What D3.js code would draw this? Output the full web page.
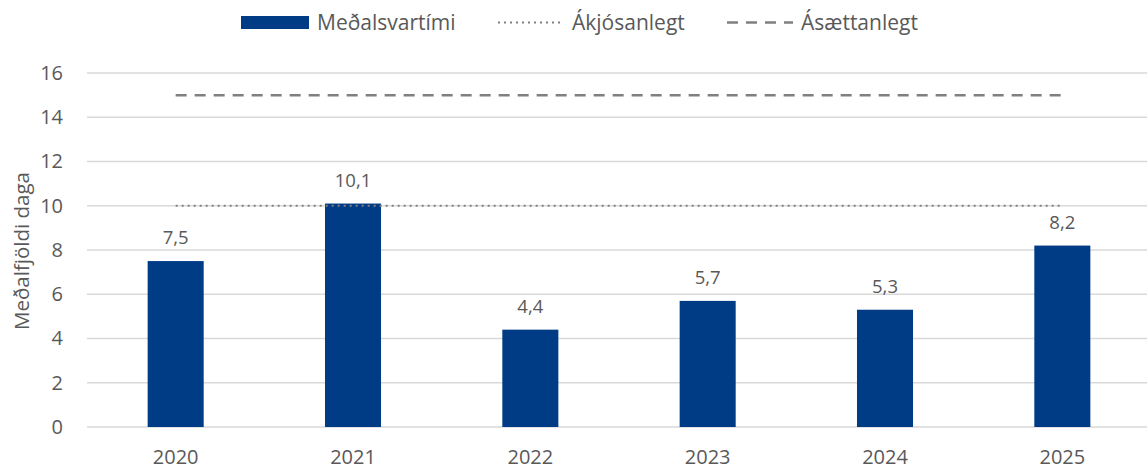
<!DOCTYPE html>
<html>
<head>
<meta charset="utf-8">
<script src="https://cdn.jsdelivr.net/npm/d3@7"></script>
<style>
    body { margin: 0; background: #fff; }
    svg text { font-family: "Open Sans", sans-serif; fill: #595959; }
</style>
</head>
<body>
<div id="chart"></div>
<script>
// DATA ///////////////////////////////////////////////////////////////////////
const years = ["2020", "2021", "2022", "2023", "2024", "2025"];
const avgTime = [7.5, 10.1, 4.4, 5.7, 5.3, 8.2];   // Meðalsvartími
const idealLevel = 10;                             // Ákjósanlegt
const okLevel = 15;                                // Ásættanlegt
const yTicks = [0, 2, 4, 6, 8, 10, 12, 14, 16];
const legendLabels = ["Meðalsvartími", "Ákjósanlegt", "Ásættanlegt"];

(function() {
    const W = 1147, H = 470;
    const margin = {top: 73, right: -4, bottom: 43, left: 87};
    const barColor = "#003c85";
    const lineColor = "#808080";
    const fmt = v => String(v).replace(".", ",");

    const svg = d3.select("#chart").append("svg")
        .attr("width", W).attr("height", H);

    const x = d3.scaleBand()
        .domain(years)
        .range([margin.left, W - margin.right])
        .paddingInner(0.684)
        .paddingOuter(0.342);

    const y = d3.scaleLinear()
        .domain([0, 16])
        .range([H - margin.bottom, margin.top]);

    // gridlines
    svg.append("g")
        .selectAll("line")
        .data(yTicks)
        .join("line")
        .attr("x1", margin.left).attr("x2", W - margin.right)
        .attr("y1", d => y(d)).attr("y2", d => y(d))
        .attr("stroke", "#d9d9d9").attr("stroke-width", 1.5);

    // y axis labels
    const yAxis = svg.append("g")
        .attr("transform", `translate(${margin.left - 24},0)`)
        .call(d3.axisLeft(y).tickValues(yTicks).tickSize(0).tickPadding(0));
    yAxis.select(".domain").remove();
    yAxis.selectAll("text").attr("font-size", 20).attr("fill", "#595959");

    // x axis labels
    const xAxis = svg.append("g")
        .attr("transform", `translate(0,${y(0)})`)
        .call(d3.axisBottom(x).tickSize(0).tickPadding(23));
    xAxis.select(".domain").remove();
    xAxis.selectAll("text").attr("font-size", 20).attr("fill", "#595959");

    // y axis title
    svg.append("text")
        .attr("transform", "translate(29,251) rotate(-90)")
        .attr("text-anchor", "middle")
        .attr("font-size", 20.5)
        .text("Meðalfjöldi daga");

    // bars
    svg.append("g")
        .selectAll("rect")
        .data(avgTime)
        .join("rect")
        .attr("x", (d, i) => x(years[i]))
        .attr("width", x.bandwidth())
        .attr("y", d => y(d))
        .attr("height", d => y(0) - y(d))
        .attr("fill", barColor);

    // reference lines
    const x0 = x(years[0]) + x.bandwidth() / 2;
    const x1 = x(years[years.length - 1]) + x.bandwidth() / 2;
    svg.append("line")
        .attr("x1", x0).attr("x2", x1)
        .attr("y1", y(idealLevel)).attr("y2", y(idealLevel))
        .attr("stroke", lineColor).attr("stroke-width", 2)
        .attr("stroke-dasharray", "2,4");
    svg.append("line")
        .attr("x1", x0).attr("x2", x1)
        .attr("y1", y(okLevel)).attr("y2", y(okLevel))
        .attr("stroke", lineColor).attr("stroke-width", 2.5)
        .attr("stroke-dasharray", "11,8");

    // value labels
    svg.append("g")
        .selectAll("text")
        .data(avgTime)
        .join("text")
        .attr("x", (d, i) => x(years[i]) + x.bandwidth() / 2)
        .attr("y", d => y(d) - 17)
        .attr("text-anchor", "middle")
        .attr("font-size", 18.5)
        .text(d => fmt(d));

    // legend
    const lg = svg.append("g");
    lg.append("rect")
        .attr("x", 241).attr("y", 16).attr("width", 68).attr("height", 13)
        .attr("fill", barColor);
    lg.append("line")
        .attr("x1", 498).attr("x2", 563).attr("y1", 22.5).attr("y2", 22.5)
        .attr("stroke", lineColor).attr("stroke-width", 2)
        .attr("stroke-dasharray", "2,4");
    lg.append("line")
        .attr("x1", 727).attr("x2", 793).attr("y1", 22.5).attr("y2", 22.5)
        .attr("stroke", lineColor).attr("stroke-width", 2.5)
        .attr("stroke-dasharray", "11,8");
    lg.selectAll("text.lbl")
        .data(legendLabels)
        .join("text")
        .attr("class", "lbl")
        .attr("x", (d, i) => [317, 572, 801][i])
        .attr("y", 29.5)
        .attr("font-size", 21)
        .text(d => d);
})();
</script>
</body>
</html>
